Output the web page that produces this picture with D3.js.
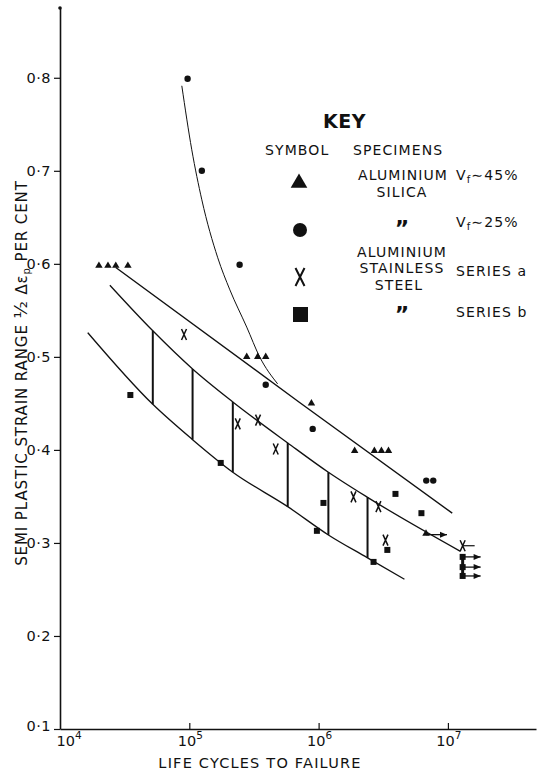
<!DOCTYPE html>
<html>
<head>
<meta charset="utf-8">
<script src="https://cdn.jsdelivr.net/npm/d3@7/dist/d3.min.js"></script>
<style>
  body { margin: 0; background: #fff; }
  svg { display: block; }
  text { font-family: "DejaVu Sans", sans-serif; fill: #111; }
</style>
</head>
<body>
<div id="chart"></div>
<script>
// axis ticks
const yTicks = [0.1, 0.2, 0.3, 0.4, 0.5, 0.6, 0.7, 0.8];
const xTickExp = [4, 5, 6, 7];

// data points [cycles, semi plastic strain range %]
const triangles = [[2.0e4, .598], [2.35e4, .598], [2.7e4, .598], [3.35e4, .598],
  [2.78e5, .5], [3.38e5, .5], [3.9e5, .5], [8.8e5, .45],
  [1.9e6, .399], [2.7e6, .399], [3.06e6, .399], [3.47e6, .399]];
const trianglesRunout = [[6.77e6, .31]];
const circles = [[9.7e4, .799], [1.25e5, .70], [2.45e5, .599], [3.9e5, .47],
  [9.0e5, .4226], [6.8e6, .367], [7.7e6, .367]];
const crosses = [[9.1e4, .524], [2.37e5, .428], [3.4e5, .432], [4.66e5, .401],
  [1.86e6, .3495], [2.9e6, .339], [3.29e6, .303]];
const crossesRunout = [[1.3e7, .297]];
const squares = [[3.5e4, .459], [1.75e5, .386], [9.7e5, .313], [1.09e6, .343],
  [2.66e6, .2796], [3.4e6, .2925], [3.93e6, .3527], [6.24e6, .332]];
const squaresRunout = [[1.3e7, .285], [1.3e7, .274], [1.3e7, .2645]];

// fitted curves
const upperLine = [[2.7e4, .596], [7.13e5, .451], [1.08e7, .332]];
const middleCurve = [[2.43e4, .577], [5.22e4, .528], [1.06e5, .487], [2.17e5, .4516],
  [5.77e5, .4075], [1.19e6, .376], [2.39e6, .349], [1.25e7, .291]];
const lowerCurve = [[1.64e4, .526], [5.22e4, .449], [1.06e5, .411], [2.17e5, .376],
  [5.77e5, .339], [1.19e6, .3086], [2.39e6, .284], [4.61e6, .261]];
const steepCurve = [[8.75e4, .7914], [1.045e5, .7226], [1.25e5, .6688], [1.66e5, .6065],
  [2.06e5, .572], [2.78e5, .532], [3.5e5, .5], [4.82e5, .471]];
// scatter band hatching [cycles, top, bottom]
const hatches = [[5.22e4, .528, .449], [1.06e5, .487, .411], [2.17e5, .4516, .376],
  [5.77e5, .4075, .339], [1.19e6, .376, .3086], [2.39e6, .349, .284]];

const width = 537, height = 772;
const svg = d3.select('#chart').append('svg')
  .attr('width', width).attr('height', height);

const x = d3.scaleLog().domain([1e4, 4.8e7]).range([60, 536]);
const y = d3.scaleLinear().domain([0.1, 0.875]).range([729, 8]);

// axes
const yAxis = svg.append('g').attr('transform', 'translate(60,0)')
  .call(d3.axisLeft(y).tickValues(yTicks).tickSize(6).tickSizeOuter(0)
    .tickFormat(d => d3.format('.1f')(d).replace('.', '·')));
yAxis.select('.domain').attr('stroke', '#111').attr('stroke-width', 1.6);
yAxis.selectAll('.tick line').attr('stroke', '#111').attr('stroke-width', 1.2);
yAxis.selectAll('.tick text').attr('font-size', 14.5).attr('x', -9).attr('fill', '#111')
  .style('letter-spacing', '0.5px');
yAxis.selectAll('.tick').filter(d => d === 0.1).select('text').attr('dy', '0.1em');
svg.append('circle').attr('cx', 60).attr('cy', y(0.875)).attr('r', 1.8).attr('fill', '#111');

const xAxis = svg.append('g').attr('transform', 'translate(0,729)')
  .call(d3.axisBottom(x).tickValues(xTickExp.slice(1).map(e => Math.pow(10, e)))
    .tickSize(-6).tickSizeOuter(0).tickFormat(''));
xAxis.select('.domain').attr('stroke', '#111').attr('stroke-width', 1.6);
xAxis.selectAll('.tick line').attr('stroke', '#111').attr('stroke-width', 1.2);

const xl = svg.append('g').selectAll('text').data(xTickExp).enter().append('text')
  .attr('x', e => x(Math.pow(10, e)) + (e === 4 ? 9 : 1))
  .attr('y', 746).attr('text-anchor', 'middle').attr('font-size', 14.5);
xl.append('tspan').text('10');
xl.append('tspan').attr('dy', -7).attr('font-size', 10.5).text(e => e);

svg.append('text').attr('x', 260).attr('y', 768).attr('text-anchor', 'middle')
  .attr('font-size', 14.5).style('letter-spacing', '1.2px').text('LIFE CYCLES TO FAILURE');

const yl = svg.append('text').attr('transform', 'translate(27,373) rotate(-90)')
  .attr('text-anchor', 'middle').attr('font-size', 15).style('letter-spacing', '0.9px');
yl.append('tspan').text('SEMI PLASTIC STRAIN RANGE ');
yl.append('tspan').attr('font-size', 18).text('½');
yl.append('tspan').text(' Δε');
yl.append('tspan').attr('font-size', 10).attr('dy', 3).text('p');
yl.append('tspan').attr('dy', -3).text(' PER CENT');

// curves
const line = d3.line().x(d => x(d[0])).y(d => y(d[1]));
const smooth = d3.line().x(d => x(d[0])).y(d => y(d[1])).curve(d3.curveMonotoneX);
svg.append('path').attr('d', line(upperLine)).attr('fill', 'none').attr('stroke', '#111').attr('stroke-width', 1.4);
svg.append('path').attr('d', smooth(middleCurve)).attr('fill', 'none').attr('stroke', '#111').attr('stroke-width', 1.3);
svg.append('path').attr('d', smooth(lowerCurve)).attr('fill', 'none').attr('stroke', '#111').attr('stroke-width', 1.3);
svg.append('path').attr('d', smooth(steepCurve)).attr('fill', 'none').attr('stroke', '#111').attr('stroke-width', 1);

svg.append('g').selectAll('line').data(hatches).enter().append('line')
  .attr('x1', d => x(d[0])).attr('x2', d => x(d[0]))
  .attr('y1', d => y(d[1])).attr('y2', d => y(d[2]))
  .attr('stroke', '#111').attr('stroke-width', 2);

// markers
const triPath = s => d3.symbol(d3.symbolTriangle, s)();
const crossPath = (w, h) => `M${-w / 2},${-h / 2}L${w / 2},${h / 2}M${w / 2},${-h / 2}L${-w / 2},${h / 2}`;

// runout arrows
const arrow = (g, px, py, len) => {
  g.append('line').attr('x1', px).attr('x2', px + len).attr('y1', py).attr('y2', py)
    .attr('stroke', '#111').attr('stroke-width', 1.3);
  g.append('path').attr('d', `M${px + len},${py}l-7,-3l0,6z`).attr('fill', '#111');
};
const arrows = svg.append('g');
trianglesRunout.forEach(d => arrow(arrows, x(d[0]), y(d[1]) + 1, 21));
squaresRunout.forEach(d => arrow(arrows, x(d[0]), y(d[1]), 18));
crossesRunout.forEach(d => arrows.append('line').attr('x1', x(d[0])).attr('x2', x(d[0]) + 12)
  .attr('y1', y(d[1])).attr('y2', y(d[1])).attr('stroke', '#111').attr('stroke-width', 1.2));
arrows.append('line').attr('x1', x(squaresRunout[0][0])).attr('x2', x(squaresRunout[0][0]))
  .attr('y1', y(d3.max(squaresRunout, d => d[1]))).attr('y2', y(d3.min(squaresRunout, d => d[1])))
  .attr('stroke', '#111').attr('stroke-width', 3);

svg.append('g').selectAll('path').data(triangles.concat(trianglesRunout)).enter().append('path')
  .attr('transform', d => `translate(${x(d[0])},${y(d[1])})`).attr('d', triPath(24)).attr('fill', '#111');
svg.append('g').selectAll('circle').data(circles).enter().append('circle')
  .attr('cx', d => x(d[0])).attr('cy', d => y(d[1])).attr('r', 3.2).attr('fill', '#111');
svg.append('g').selectAll('rect').data(squares.concat(squaresRunout)).enter().append('rect')
  .attr('x', d => x(d[0]) - 3).attr('y', d => y(d[1]) - 3).attr('width', 6).attr('height', 6).attr('fill', '#111');
svg.append('g').selectAll('path').data(crosses.concat(crossesRunout)).enter().append('path')
  .attr('transform', d => `translate(${x(d[0])},${y(d[1])})`).attr('d', crossPath(5, 11))
  .attr('stroke', '#111').attr('stroke-width', 1.5).attr('fill', 'none');

// key
const key = svg.append('g');
const txt = (tx, ty, s, opts = {}) => key.append('text').attr('x', tx).attr('y', ty)
  .attr('font-size', opts.size || 14).attr('font-weight', opts.bold ? 'bold' : null)
  .attr('text-anchor', opts.anchor || 'start').style('letter-spacing', (opts.ls ?? 1.1) + 'px').text(s);
txt(323, 128, 'KEY', { size: 19, bold: true, ls: 0.5 });
txt(265, 155, 'SYMBOL');
txt(353, 155, 'SPECIMENS');
txt(403, 180, 'ALUMINIUM', { anchor: 'middle' });
txt(402, 197, 'SILICA', { anchor: 'middle' });
txt(402, 236, '”', { anchor: 'middle', size: 22, bold: true, ls: 0 });
txt(402, 257, 'ALUMINIUM', { anchor: 'middle' });
txt(402, 273, 'STAINLESS', { anchor: 'middle' });
txt(399, 290, 'STEEL', { anchor: 'middle' });
txt(402, 322, '”', { anchor: 'middle', size: 22, bold: true, ls: 0 });
const vf = (ty, s) => {
  const t = txt(456, ty, 'V');
  t.append('tspan').attr('font-size', 10).attr('dy', 3).text('f');
  t.append('tspan').attr('dy', -3).text('∼' + s);
};
vf(180, '45%');
vf(227, '25%');
txt(456, 276, 'SERIES a');
txt(456, 317, 'SERIES b');

key.append('path').attr('transform', 'translate(299,183)').attr('d', triPath(120)).attr('fill', '#111');
key.append('circle').attr('cx', 300).attr('cy', 230).attr('r', 7).attr('fill', '#111');
key.append('path').attr('transform', 'translate(300,277)').attr('d', crossPath(9, 18))
  .attr('stroke', '#111').attr('stroke-width', 2).attr('fill', 'none');
key.append('rect').attr('x', 293).attr('y', 307).attr('width', 15).attr('height', 15).attr('fill', '#111');
</script>
</body>
</html>
